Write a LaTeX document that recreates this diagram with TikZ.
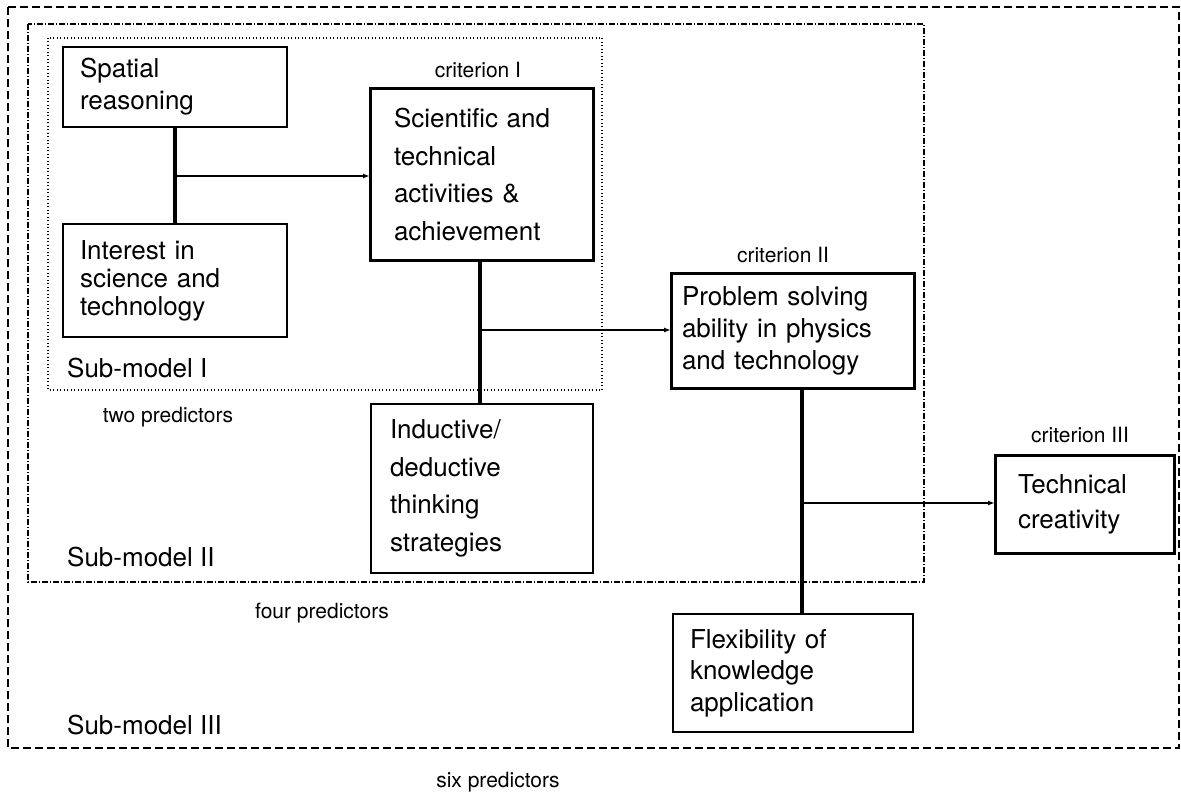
\documentclass[tikz,border=0pt]{standalone}
\usepackage{fontspec}
\setmainfont{TeX Gyre Heros}
\usetikzlibrary{arrows.meta}
\begin{document}
\begin{tikzpicture}[x=1pt,y=-1pt,
  boxthin/.style={draw, line width=1.5pt, anchor=north west, align=left, inner ysep=0pt, outer sep=0pt},
  boxthick/.style={boxthin, line width=3pt},
  lbl/.style={font=\fontsize{21}{25}\selectfont, inner sep=0pt},
  sublbl/.style={font=\fontsize{26}{30}\selectfont, anchor=west, inner sep=0pt},
  link/.style={line width=3.4pt},
  arrowline/.style={line width=1.8pt, -{Latex[length=7pt,width=5pt]}},
  outerframe/.style={line width=1.3pt, dash pattern=on 8pt off 4pt},
  midframe/.style={line width=1.1pt, dash pattern=on 6pt off 2pt on 1pt off 2pt},
  innerframe/.style={line width=1.1pt, dash pattern=on 1pt off 2.5pt}]
\useasboundingbox (0,0) rectangle (1181,792);

% frames
\draw[outerframe] (8,7) rectangle (1179,748);
\draw[midframe] (28,24) rectangle (924,582);
\draw[innerframe] (48,38) rectangle (602,390);

% boxes
\node[boxthin, inner xsep=17pt, text width=190pt, minimum width=224pt, minimum height=80pt,
      font=\fontsize{26}{32}\selectfont] (spatial) at (63,47) {Spatial\\reasoning};
\node[boxthin, inner xsep=17pt, text width=190pt, minimum width=224pt, minimum height=113pt,
      font=\fontsize{26}{28}\selectfont] (interest) at (63,224) {Interest in\\science and\\technology};
\node[boxthick, inner xsep=24pt, text width=175pt, minimum width=223pt, minimum height=171pt,
      font=\fontsize{26}{37.5}\selectfont] (sci) at (370,89) {Scientific and\\technical\\activities \&\\achievement};
\node[boxthin, inner xsep=19pt, text width=184pt, minimum width=222pt, minimum height=169pt,
      font=\fontsize{26}{37.5}\selectfont] (ind) at (371,404) {Inductive/\\deductive\\thinking\\strategies};
\node[boxthick, inner xsep=11pt, text width=221pt, minimum width=243pt, minimum height=115pt,
      font=\fontsize{26}{32}\selectfont] (prob) at (671,273) {Problem solving\\ability in physics\\and technology};
\node[boxthick, inner xsep=23pt, text width=133pt, minimum width=179pt, minimum height=98pt,
      font=\fontsize{26}{35}\selectfont] (tech) at (995,455) {Technical\\creativity};
\node[boxthin, inner xsep=17pt, text width=206pt, minimum width=240pt, minimum height=118pt,
      font=\fontsize{26}{31.5}\selectfont] (flex) at (673,614) {Flexibility of\\knowledge\\application};

% labels
\node[lbl] (c1) at (478,70) {criterion I};
\node[lbl] (c2) at (783,255) {criterion II};
\node[lbl] (c3) at (1080,435) {criterion III};
\node[lbl] (p2) at (168,417) {two predictors};
\node[lbl] (p4) at (322,613) {four predictors};
\node[lbl] (p6) at (498,782) {six predictors};
\node[sublbl] (s1) at (67,368) {Sub-model I};
\node[sublbl] (s2) at (67,557) {Sub-model II};
\node[sublbl] (s3) at (67,725) {Sub-model III};

% junctions
\coordinate (j1) at (175,176);
\coordinate (j2) at (480,330);
\coordinate (j3) at (802,503);

% connectors
\draw[link] (spatial.south -| j1) -- (interest.north -| j1);
\draw[arrowline] (j1) -- (j1 -| sci.west);
\draw[link] (sci.south -| j2) -- (ind.north -| j2);
\draw[arrowline] (j2) -- (j2 -| prob.west);
\draw[link] (prob.south -| j3) -- (flex.north -| j3);
\draw[arrowline] (j3) -- (j3 -| tech.west);
\end{tikzpicture}
\end{document}
